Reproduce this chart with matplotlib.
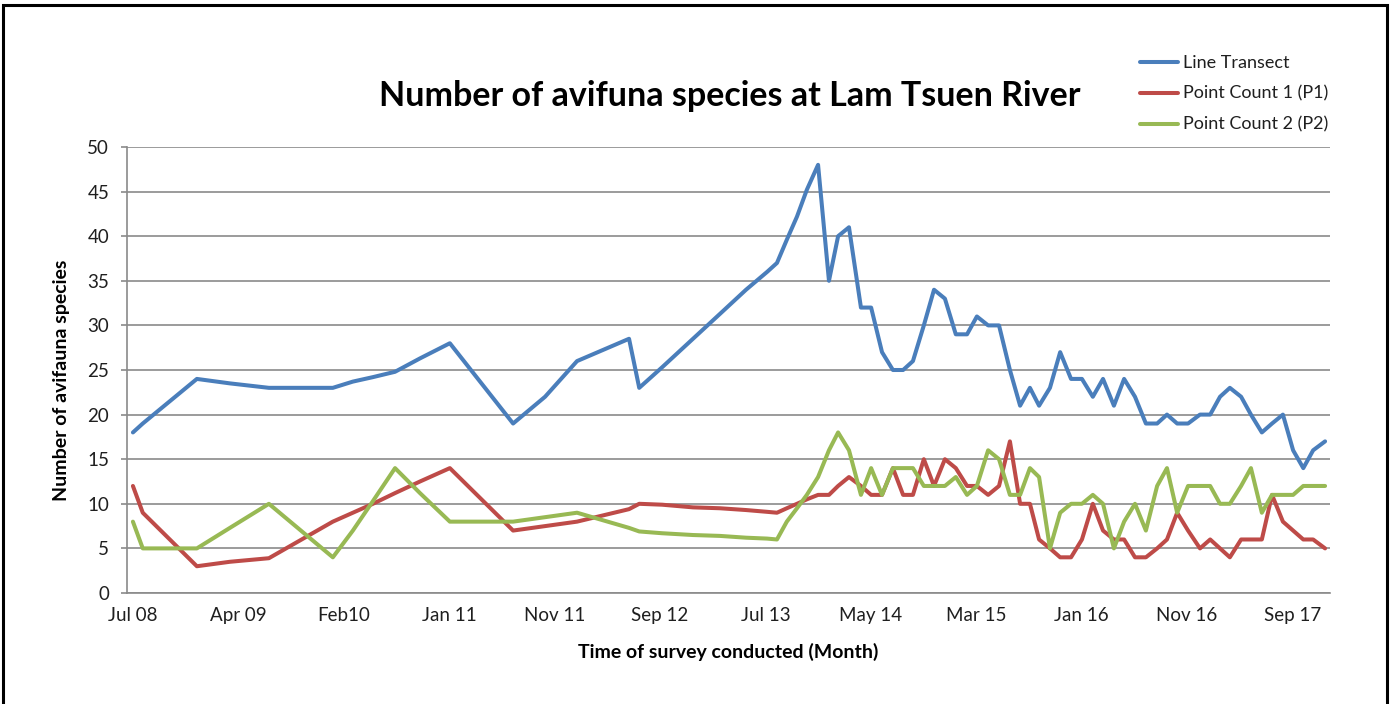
import matplotlib
matplotlib.use("Agg")
import matplotlib.pyplot as plt
from matplotlib.patches import Rectangle

# Survey dates, as days after the first survey (July 2008)
survey_day = [0, 28, 182, 276, 387, 569, 626, 683, 746, 817,
              902, 1082, 1173, 1264, 1412, 1441, 1506, 1594, 1671, 1745,
              1805, 1833, 1861, 1890, 1918, 1950, 1981, 2007, 2038, 2072,
              2101, 2132, 2163, 2192, 2220, 2251, 2280, 2311, 2342, 2374,
              2402, 2434, 2465, 2496, 2525, 2553, 2579, 2610, 2639, 2670,
              2701, 2732, 2761, 2792, 2821, 2852, 2883, 2915, 2943, 2972,
              3003, 3037, 3066, 3094, 3122, 3154, 3182, 3213, 3242, 3273,
              3302, 3331, 3359, 3393]

line_transect = [18, 19, 24, 23.5, 23, 23, 23.7, 24.2, 24.8, 26.3,
                 28, 19, 22, 26, 28.5, 23, 25.3, 28.5, 31.3, 34,
                 36, 37, 39.6, 42.2, 45.2, 48, 35, 40, 41, 32,
                 32, 27, 25, 25, 26, 30, 34, 33, 29, 29,
                 31, 30, 30, 25, 21, 23, 21, 23, 27, 24,
                 24, 22, 24, 21, 24, 22, 19, 19, 20, 19,
                 19, 20, 20, 22, 23, 22, 20, 18, 19, 20,
                 16, 14, 16, 17]

point_count_1 = [12, 9, 3, 3.5, 3.9, 8, 9, 10, 11.2, 12.5,
                 14, 7, 7.5, 8, 9.4, 10, 9.9, 9.6, 9.5, 9.3,
                 9.1, 9, 9.5, 10, 10.5, 11, 11, 12, 13, 12,
                 11, 11, 14, 11, 11, 15, 12, 15, 14, 12,
                 12, 11, 12, 17, 10, 10, 6, 5, 4, 4,
                 6, 10, 7, 6, 6, 4, 4, 5, 6, 9,
                 7, 5, 6, 5, 4, 6, 6, 6, 11, 8,
                 7, 6, 6, 5]

point_count_2 = [8, 5, 5, 7.3, 10, 4, 7, 10.3, 14, 11.2,
                 8, 8, 8.5, 9, 7.3, 6.9, 6.7, 6.5, 6.4, 6.2,
                 6.1, 6, 8, 9.5, 11, 13, 16, 18, 16, 11,
                 14, 11, 14, 14, 14, 12, 12, 12, 13, 11,
                 12, 16, 15, 11, 11, 14, 13, 5, 9, 10,
                 10, 11, 10, 5, 8, 10, 7, 12, 14, 9,
                 12, 12, 12, 10, 10, 12, 14, 9, 11, 11,
                 11, 12, 12, 12]

tick_days = [0, 300, 600, 900, 1200, 1500, 1800, 2100, 2400, 2700, 3000, 3300]
tick_labels = ["Jul 08", "Apr 09", "Feb10", "Jan 11", "Nov 11", "Sep 12",
               "Jul 13", "May 14", "Mar 15", "Jan 16", "Nov 16", "Sep 17"]
y_ticks = [0, 5, 10, 15, 20, 25, 30, 35, 40, 45, 50]

series = [
    ("Line Transect", line_transect, "#4A7EBB"),
    ("Point Count 1 (P1)", point_count_1, "#BE4B48"),
    ("Point Count 2 (P2)", point_count_2, "#98B954"),
]

plt.rcParams["font.family"] = ["Lato", "DejaVu Sans"]
text_color = "#1f1f1f"
grid_color = "#8a8a8a"

fig = plt.figure(figsize=(13.92, 7.04), dpi=100)
ax = fig.add_axes([127.3 / 1392, 1 - 593 / 704, (1330 - 127.3) / 1392, (593 - 147) / 704])

for name, values, color in series:
    ax.plot(survey_day, values, color=color, lw=2.9, label=name,
            solid_joinstyle="round", solid_capstyle="round")

ax.set_xlim(-16, 3407)
ax.set_ylim(0, 50)
ax.set_yticks(y_ticks)
ax.set_xticks(tick_days)
ax.set_xticklabels(tick_labels)
ax.yaxis.grid(True, color=grid_color, lw=1.2)
ax.set_axisbelow(True)

for side in ("top", "right"):
    ax.spines[side].set_visible(False)
for side in ("left", "bottom"):
    ax.spines[side].set_color(grid_color)
    ax.spines[side].set_linewidth(1.2)

ax.tick_params(axis="y", length=4, width=1.2, color=grid_color, pad=9,
               labelsize=13.5, labelcolor=text_color)
ax.tick_params(axis="x", length=0, pad=10, labelsize=13.5, labelcolor=text_color)

fig.text(730 / 1392, 1 - 96 / 704, "Number of avifuna species at Lam Tsuen River",
         ha="center", va="center", fontsize=24.5, fontweight="bold", color="black")
fig.text(728 / 1392, 1 - 652 / 704, "Time of survey conducted (Month)",
         ha="center", va="center", fontsize=14, fontweight="bold", color="black")
fig.text(62 / 1392, 1 - 380 / 704, "Number of avifauna species", rotation=90,
         ha="center", va="center", fontsize=14, fontweight="bold", color="black")

fig.legend(loc="upper left", bbox_to_anchor=(1140 / 1392, 1 - 55 / 704),
           frameon=False, fontsize=13, handlelength=2.1, handletextpad=0.28,
           labelspacing=0.82, borderpad=0, borderaxespad=0, labelcolor=text_color)

# outer frame around the chart area
fig.add_artist(Rectangle((2.5 / 1392, -0.1), (1387 - 2.5) / 1392, 1.1 - 5 / 704,
                         transform=fig.transFigure, fill=False,
                         edgecolor="black", lw=2.2))

fig.savefig("out.png", dpi=100)
